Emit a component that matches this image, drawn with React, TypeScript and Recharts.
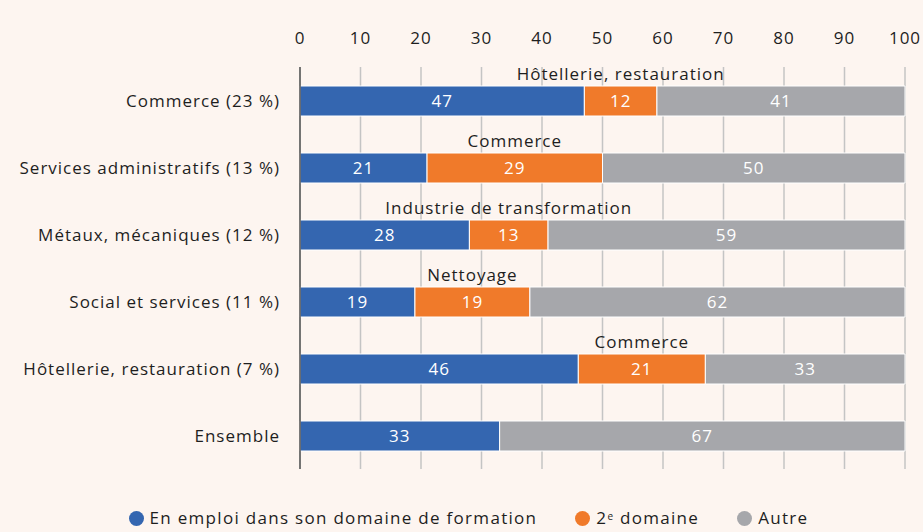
import { BarChart, Bar, XAxis, YAxis, CartesianGrid, LabelList } from 'recharts';

const categories = [
  'Commerce (23 %)',
  'Services administratifs (13 %)',
  'Métaux, mécaniques (12 %)',
  'Social et services (11 %)',
  'Hôtellerie, restauration (7 %)',
  'Ensemble',
];
const ownDomain = [47, 21, 28, 19, 46, 33];
const secondDomain = [12, 29, 13, 19, 21, 0];
const other = [41, 50, 59, 62, 33, 67];
const secondDomainNames = [
  'Hôtellerie, restauration',
  'Commerce',
  'Industrie de transformation',
  'Nettoyage',
  'Commerce',
  '',
];
const xTicks = [0, 10, 20, 30, 40, 50, 60, 70, 80, 90, 100];

const BLUE = '#3466b0';
const ORANGE = '#f07a2a';
const GREY = '#a6a7ab';
const BG = '#fdf5f0';
const TEXT = '#1e1e1e';
const FONT = '"Open Sans", sans-serif';
const LS = 1;

const data = categories.map((name, i) => ({
  name,
  own: ownDomain[i],
  second: secondDomain[i],
  other: other[i],
  secondName: secondDomainNames[i],
}));

const hideZero = (v: any) => (v ? v : '');

function SecondNameLabel(props: any) {
  const { x, y, width, value } = props;
  if (!value) return null;
  return (
    <text x={x + width / 2} y={y - 6} textAnchor="middle" fill={TEXT} fontSize={17} fontFamily={FONT} letterSpacing={LS}>
      {value}
    </text>
  );
}

function LegendItem({ color, children }: { color: string; children: any }) {
  return (
    <span style={{ display: 'inline-flex', alignItems: 'center', marginRight: 38 }}>
      <span style={{ width: 15, height: 15, borderRadius: '50%', background: color, marginRight: 6 }} />
      {children}
    </span>
  );
}

export default function App() {
  const tickStyle = { fill: TEXT, fontSize: 17, fontFamily: FONT, letterSpacing: LS };
  return (
    <div style={{ position: 'relative', width: 923, height: 532, background: BG, fontFamily: FONT }}>
      <style>{`body{margin:0}`}</style>
      <BarChart
        width={923}
        height={532}
        data={data}
        layout="vertical"
        margin={{ top: 37, right: 18, left: 10, bottom: 63 }}
        barCategoryGap={19}
      >
        <CartesianGrid horizontal={false} stroke="#c4c4c4" strokeWidth={1.5} />
        <XAxis
          type="number"
          orientation="top"
          domain={[0, 100]}
          ticks={xTicks}
          interval={0}
          axisLine={false}
          tickLine={false}
          tickSize={0}
          tickMargin={23}
          height={30}
          tick={tickStyle}
        />
        <YAxis
          type="category"
          dataKey="name"
          width={290}
          axisLine={{ stroke: '#555555', strokeWidth: 1.5 }}
          tickLine={false}
          tickSize={0}
          tickMargin={20}
          tick={tickStyle}
        />
        <Bar dataKey="own" stackId="a" fill={BLUE} stroke="#ffffff" strokeWidth={1} barSize={30} isAnimationActive={false}>
          <LabelList dataKey="own" position="center" fill="#ffffff" fontSize={17} fontFamily={FONT} letterSpacing={LS} formatter={hideZero} />
        </Bar>
        <Bar dataKey="second" stackId="a" fill={ORANGE} stroke="#ffffff" strokeWidth={1} barSize={30} isAnimationActive={false}>
          <LabelList dataKey="second" position="center" fill="#ffffff" fontSize={17} fontFamily={FONT} letterSpacing={LS} formatter={hideZero} />
          <LabelList dataKey="secondName" content={SecondNameLabel} />
        </Bar>
        <Bar dataKey="other" stackId="a" fill={GREY} stroke="#ffffff" strokeWidth={1} barSize={30} isAnimationActive={false}>
          <LabelList dataKey="other" position="center" fill="#ffffff" fontSize={17} fontFamily={FONT} letterSpacing={LS} formatter={hideZero} />
        </Bar>
      </BarChart>
      <div
        style={{
          position: 'absolute',
          top: 506,
          left: 0,
          width: 923,
          display: 'flex',
          justifyContent: 'center',
          paddingLeft: 52,
          boxSizing: 'border-box',
          fontSize: 17,
          letterSpacing: 1.3,
          color: TEXT,
          lineHeight: '24px',
        }}
      >
        <LegendItem color={BLUE}>En emploi dans son domaine de formation</LegendItem>
        <LegendItem color={ORANGE}>
          2<sup style={{ fontSize: 10, lineHeight: 0, position: 'relative', top: -2 }}>e</sup>&nbsp;domaine
        </LegendItem>
        <LegendItem color={GREY}>Autre</LegendItem>
      </div>
    </div>
  );
}
